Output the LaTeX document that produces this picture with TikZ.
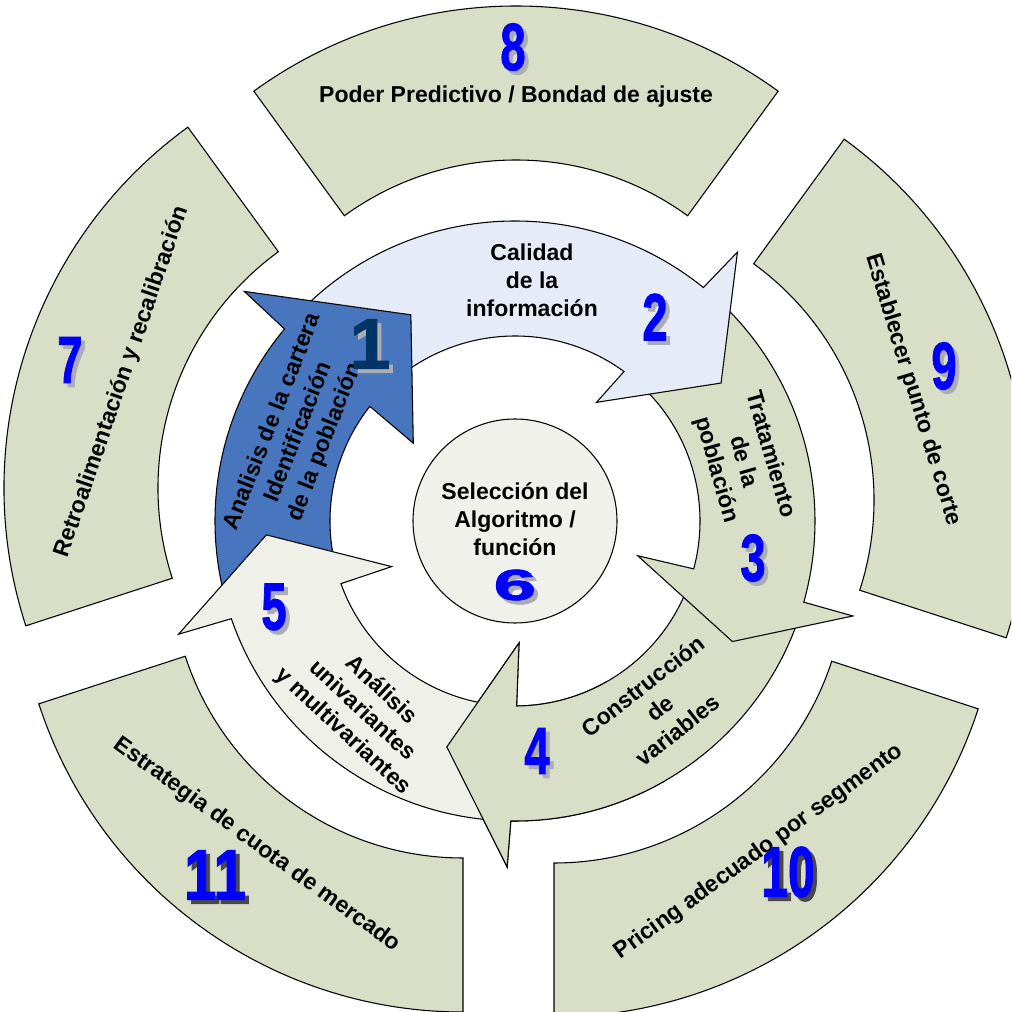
\documentclass[tikz,border=0pt]{standalone}
\usepackage{fontspec}
\setmainfont{Liberation Sans}
\newfontfamily\numfont{Liberation Sans Bold}[FakeBold=1.6]
\usepackage{graphicx}
\definecolor{segfill}{RGB}{217,222,199}
\definecolor{arrowblue}{RGB}{72,118,190}
\definecolor{paleblue}{RGB}{230,236,247}
\definecolor{palegreen}{RGB}{239,240,231}
\definecolor{hubfill}{RGB}{240,241,234}
\definecolor{numblue}{RGB}{0,0,255}
\definecolor{numnavy}{RGB}{0,51,102}
\definecolor{numshadow}{RGB}{172,172,180}
\definecolor{numdark}{RGB}{72,72,72}

\begin{document}
\begin{tikzpicture}[x=0.75pt, y=0.75pt,
    seg/.style={fill=segfill, draw=black, line width=0.8pt},
    ring/.style={draw=black, line width=0.8pt},
    hub/.style={circle, draw=black, line width=0.8pt, fill=hubfill, minimum size=153pt, inner sep=0pt},
    txt/.style={font=\fontsize{17.25}{21}\selectfont\bfseries, align=center, inner sep=0pt},
    bignum/.style={font=\fontsize{50}{50}\selectfont\numfont, inner sep=0pt}]
  \useasboundingbox (-515,-491) rectangle (496,521);
  \clip (-515,-491) rectangle (496,521);

  % outer ring
  \foreach \cx/\cy/\a in {-65/33/126, 1/69/54, 67/21/-18, 39/-50/-90, -52/-45/198} {
    \filldraw[seg] (\cx,\cy) ++(\a:292) arc[start angle=\a, delta angle=72, radius=292]
      -- ++(\a+72:154) arc[start angle=\a+72, delta angle=-72, radius=446] -- cycle;
  }

  % inner cycle
  \filldraw[ring, fill=segfill] (-18:300) arc[start angle=-18, end angle=-90.8, radius=300]
    -- (-91.3:346) -- (-106.8:236) -- (-88.1:122) -- (-89.5:185)
    arc[start angle=-89.5, end angle=-18, radius=185] -- cycle;
  \filldraw[ring, fill=segfill] (49:300) arc[start angle=49, end angle=-15.7, radius=300]
    -- (-15.7:351) -- (-29:248.6) -- (-15.8:127.5) -- (-15:185)
    arc[start angle=-15, end angle=49, radius=185] -- cycle;
  \filldraw[ring, fill=paleblue] (137:300) arc[start angle=137, end angle=51.1, radius=300]
    -- (50.4:349) -- (33.8:248) -- (55.5:144) -- (53.9:185)
    arc[start angle=53.9, end angle=137, radius=185] -- cycle;
  \filldraw[ring, fill=arrowblue] (196:300) arc[start angle=196, end angle=140.2, radius=300]
    -- (139.7:355) -- (116.8:231) -- (142.6:128) -- (141.7:185)
    arc[start angle=141.7, end angle=196, radius=185] -- cycle;
  \filldraw[ring, fill=palegreen] (-93:300) arc[start angle=-93, end angle=-161, radius=300]
    -- (-161.4:355) -- (-176.8:249) -- (-159.7:131.5) -- (-160.2:185)
    arc[start angle=-160.2, end angle=-93, radius=185] -- cycle;
  % head of 4 goes over the tail of 5
  \begin{scope}
    \clip (0,0) -- (-60:520) arc[start angle=-60, end angle=-120, radius=520] -- cycle;
    \filldraw[ring, fill=segfill] (-18:300) arc[start angle=-18, end angle=-90.8, radius=300]
      -- (-91.3:346) -- (-106.8:236) -- (-88.1:122) -- (-89.5:185)
      arc[start angle=-89.5, end angle=-18, radius=185] -- cycle;
  \end{scope}

  \node[hub] (hub) at (0,0) {};
  \node[txt] (hubtext) at (0,2) {Selección del\\Algoritmo /\\función};

  % texts
  \node[txt] (t8) at (1,424) {Poder Predictivo / Bondad de ajuste};
  \node[txt, rotate=71] (t7) at (-393,139) {Retroalimentación y recalibración};
  \node[txt, rotate=-73] (t9) at (398,131) {Establecer punto de corte};
  \node[txt, rotate=36] (t10) at (244,-331) {Pricing adecuado por segmento};
  \node[txt, rotate=-36] (t11) at (-258,-324) {Estrategia de cuota de mercado};

  \node[txt, rotate=68.6] (t1) at (-216,89) {Analisis de la cartera\\Identificación\\de la población};
  \node[txt] (t2) at (17,241) {Calidad\\de la\\información};
  \node[txt, rotate=-74] (t3) at (228,59) {Tratamiento\\de la\\población};
  \node[txt, rotate=38] (t4) at (145,-187) {Construcción\\de\\variables};
  \node[txt, rotate=-43] (t5) at (-153,-190) {Análisis\\univariantes\\y multivariantes};

  % step numbers
  \foreach \n/\x/\y/\xs/\ys/\c/\s in {
      8/-2/474/0.68/1/numblue/numshadow,
      7/-445/161/0.68/1/numblue/numshadow,
      9/429/155/0.68/1/numblue/numshadow,
      10/273/-351/0.72/1.07/numblue/numdark,
      11/-300/-354/0.88/1.07/numblue/numdark,
      1/-145/177/1.1/1.07/numnavy/numshadow,
      2/140/204/0.68/1/numblue/numshadow,
      3/238/-37/0.68/1/numblue/numshadow,
      4/22/-230/0.68/1/numblue/numshadow,
      5/-241/-86/0.68/1/numblue/numshadow,
      6/0/-64/1.15/0.65/numblue/numshadow} {
    \node[bignum, text=\s] (s\n) at (\x+4,\y-4) {\scalebox{\xs}[\ys]{\n}};
    \node[bignum, text=\c] (n\n) at (\x,\y) {\scalebox{\xs}[\ys]{\n}};
  }
\end{tikzpicture}
\end{document}
